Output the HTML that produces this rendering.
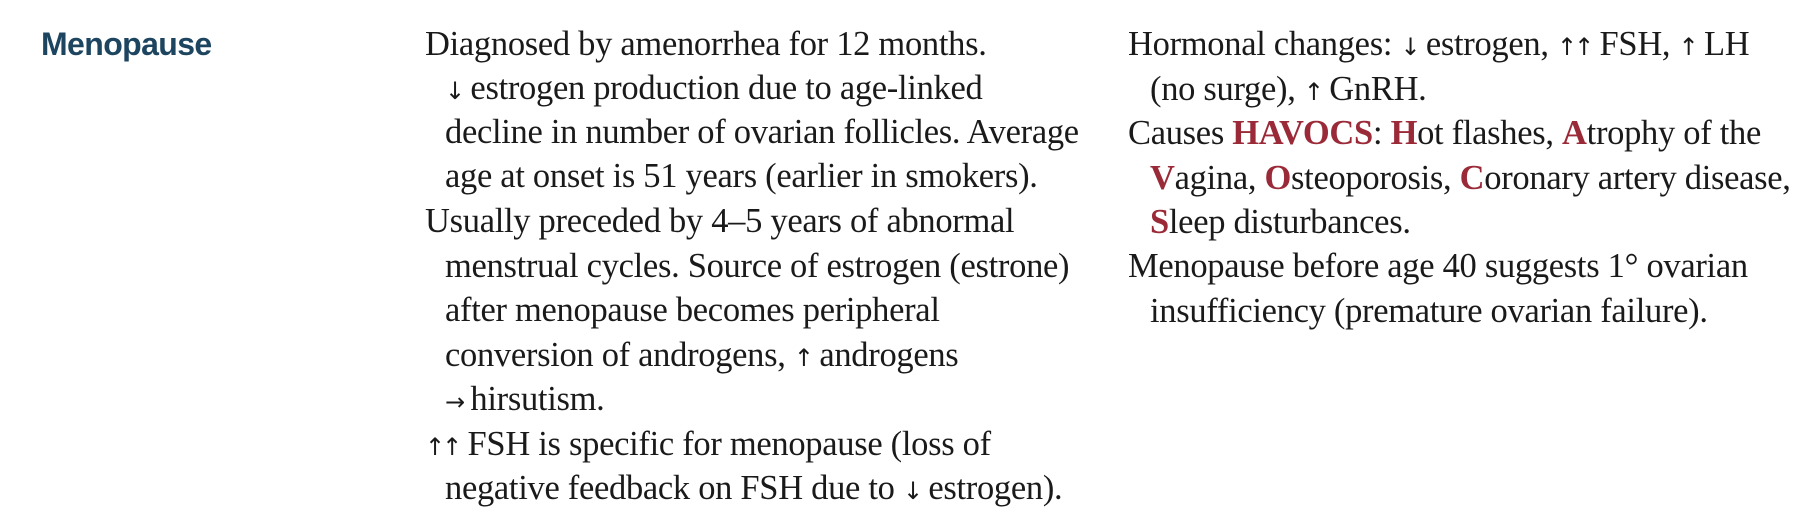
<!DOCTYPE html>
<html><head><meta charset="utf-8"><style>
body{margin:0;width:1812px;height:530px;background:#fff;position:relative;overflow:hidden;font-family:"Liberation Serif",serif;color:#1a1a1a}
.l{position:absolute;white-space:nowrap;font-size:34.5px;line-height:44px;height:44px;letter-spacing:-0.3px}
.r{color:#9b2a38;font-weight:bold}
.a{font-family:"DejaVu Sans",sans-serif;font-size:24px;letter-spacing:-3px}
.t{position:absolute;left:41px;top:22px;font-family:"Liberation Sans",sans-serif;font-weight:bold;font-size:32px;line-height:44px;color:#1d4560;letter-spacing:-0.6px}
</style></head><body>
<div class="t">Menopause</div>
<div>
<div class="l" style="left:425px;top:22px">Diagnosed by amenorrhea for 12 months.</div>
<div class="l" style="left:445px;top:66px"><span class="a">↓</span> estrogen production due to age-linked</div>
<div class="l" style="left:445px;top:110px">decline in number of ovarian follicles. Average</div>
<div class="l" style="left:445px;top:154px">age at onset is 51 years (earlier in smokers).</div>
<div class="l" style="left:425px;top:199px">Usually preceded by 4–5 years of abnormal</div>
<div class="l" style="left:445px;top:244px">menstrual cycles. Source of estrogen (estrone)</div>
<div class="l" style="left:445px;top:288px">after menopause becomes peripheral</div>
<div class="l" style="left:445px;top:333px">conversion of androgens, <span class="a">↑</span> androgens</div>
<div class="l" style="left:445px;top:377px"><span class="a">→</span> hirsutism.</div>
<div class="l" style="left:425px;top:422px"><span class="a">↑↑</span> FSH is specific for menopause (loss of</div>
<div class="l" style="left:445px;top:466px">negative feedback on FSH due to <span class="a">↓</span> estrogen).</div>
</div>
<div>
<div class="l" style="left:1128px;top:22px">Hormonal changes: <span class="a">↓</span> estrogen, <span class="a">↑↑</span> FSH, <span class="a">↑</span> LH</div>
<div class="l" style="left:1150px;top:67px">(no surge), <span class="a">↑</span> GnRH.</div>
<div class="l" style="left:1128px;top:111px">Causes <span class="r">HAVOCS</span>: <span class="r">H</span>ot flashes, <span class="r">A</span>trophy of the</div>
<div class="l" style="left:1150px;top:156px"><span class="r">V</span>agina, <span class="r">O</span>steoporosis, <span class="r">C</span>oronary artery disease,</div>
<div class="l" style="left:1150px;top:200px"><span class="r">S</span>leep disturbances.</div>
<div class="l" style="left:1128px;top:244px">Menopause before age 40 suggests 1° ovarian</div>
<div class="l" style="left:1150px;top:289px">insufficiency (premature ovarian failure).</div>
</div>
</body></html>
